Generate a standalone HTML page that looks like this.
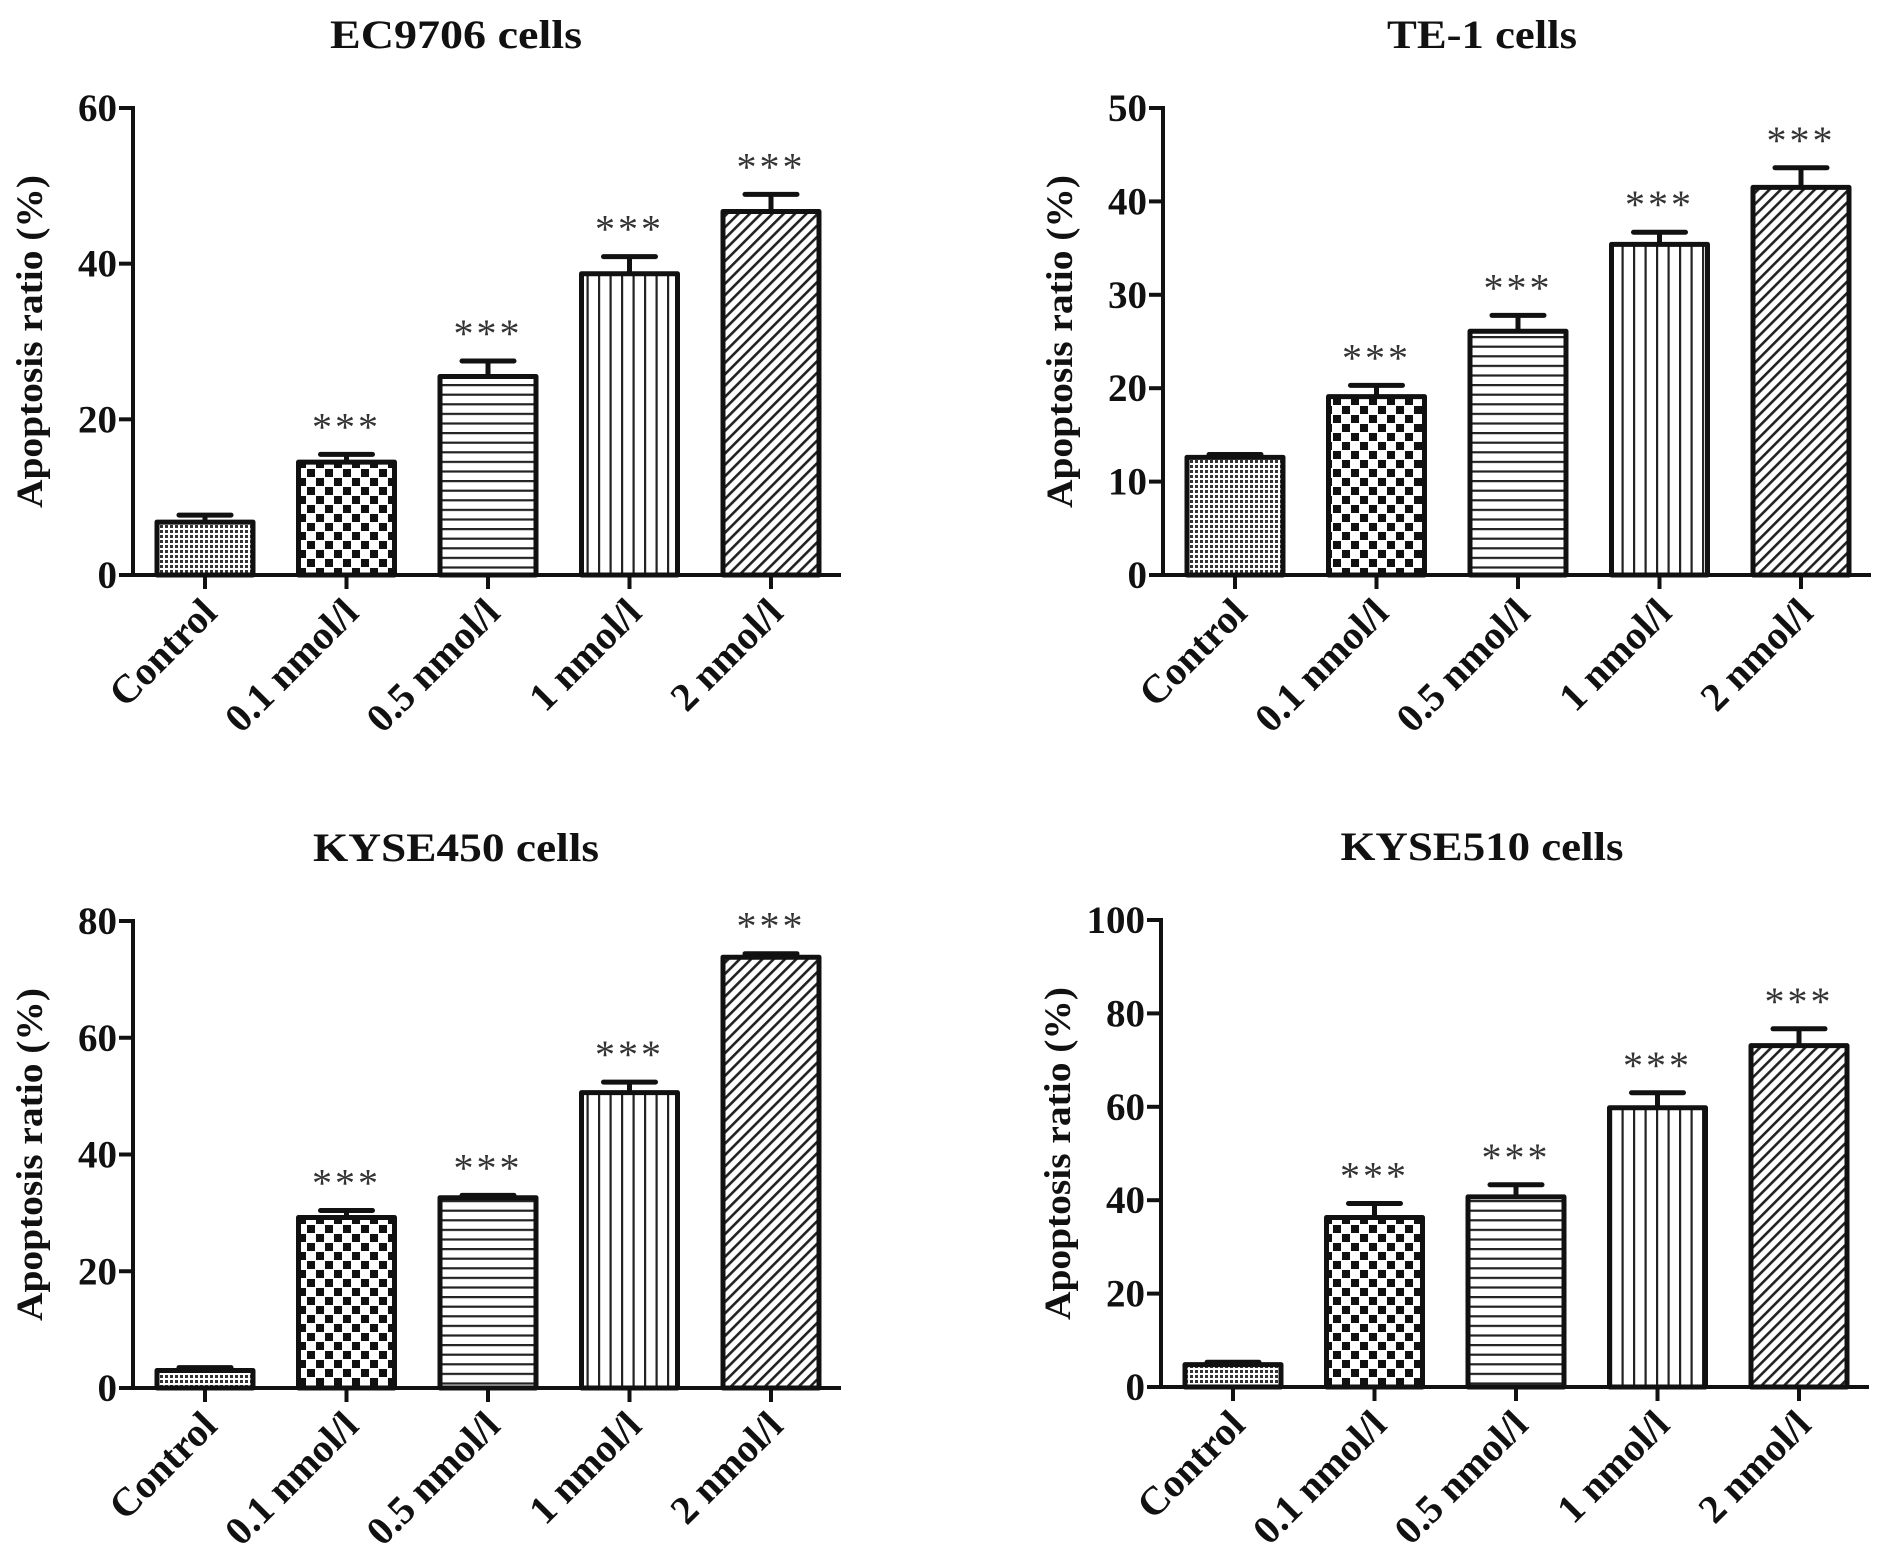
<!DOCTYPE html>
<html><head><meta charset="utf-8">
<style>
html,body{margin:0;padding:0;background:#fff;}
svg{display:block;font-family:"Liberation Serif",serif;}
</style></head>
<body>
<svg id="fig" width="1890" height="1564" viewBox="0 0 1890 1564" xmlns="http://www.w3.org/2000/svg">
<defs>
<pattern id="p-control" patternUnits="userSpaceOnUse" width="5" height="5"><rect width="5" height="5" fill="#fff"/><rect width="3" height="3" fill="#333"/></pattern>
<pattern id="p-check" patternUnits="userSpaceOnUse" width="18" height="18"><rect width="18" height="18" fill="#fff"/><rect x="1" y="1" width="8" height="8" fill="#111"/><rect x="10" y="10" width="8" height="8" fill="#111"/></pattern>
<pattern id="p-hline" patternUnits="userSpaceOnUse" width="10" height="9.6"><rect width="10" height="9.6" fill="#fff"/><rect y="0" width="10" height="2.2" fill="#222"/></pattern>
<pattern id="p-vline" patternUnits="userSpaceOnUse" width="11.5" height="10"><rect width="11.5" height="10" fill="#fff"/><rect x="0" width="2.2" height="10" fill="#222"/></pattern>
<pattern id="p-diag" patternUnits="userSpaceOnUse" width="8" height="8" patternTransform="rotate(45)"><rect width="8" height="8" fill="#fff"/><rect width="2.6" height="8" fill="#222"/></pattern>
</defs>
</svg>
<script>
const categories = ["Control","0.1 nmol/l","0.5 nmol/l","1 nmol/l","2 nmol/l"];
const titles = ["EC9706 cells","TE-1 cells","KYSE450 cells","KYSE510 cells"];
const ec9706Values = [6.8,14.5,25.5,38.7,46.7];
const ec9706Errors = [0.9,1.0,2.0,2.2,2.2];
const te1Values = [12.6,19.1,26.1,35.4,41.5];
const te1Errors = [0.3,1.2,1.7,1.3,2.1];
const kyse450Values = [3.0,29.2,32.6,50.6,73.8];
const kyse450Errors = [0.5,1.2,0.4,1.8,0.6];
const kyse510Values = [4.8,36.3,40.7,59.8,73.1];
const kyse510Errors = [0.5,3.0,2.6,3.2,3.6];
const yMaxes = [60,50,80,100];
const yTickStep = [20,10,20,20];
const significance = ["","***","***","***","***"];

const values=[ec9706Values,te1Values,kyse450Values,kyse510Values];
const errors=[ec9706Errors,te1Errors,kyse450Errors,kyse510Errors];
const fills=["p-control","p-check","p-hline","p-vline","p-diag"];
const titleLen=[252,190,286,283];
const layout=[{ax:133,top:108,zero:575,tx:456},{ax:1163,top:108,zero:575,tx:1482},{ax:133,top:921,zero:1388,tx:456},{ax:1161,top:920,zero:1387,tx:1482}];
const NS="http://www.w3.org/2000/svg";
const svg=document.getElementById('fig');
function mk(tag,attrs,parent){const e=document.createElementNS(NS,tag);for(const k in attrs)e.setAttribute(k,attrs[k]);(parent||svg).appendChild(e);return e;}

layout.forEach((L,pi)=>{
  const g=mk('g',{});
  
  
  const yScale=v=>L.zero-(v/yMaxes[pi])*(L.zero-L.top);
  const step=141.5, x0=L.ax+72, bw=96;
  const xScale=i=>x0+i*step;
  const t=mk('text',{x:L.tx,y:L.top-60,'text-anchor':'middle','font-size':40,'font-weight':'bold',fill:'#111',textLength:titleLen[pi],lengthAdjust:'spacingAndGlyphs'},g);
  t.textContent=titles[pi];
  
  
  const yt=mk('text',{transform:`translate(${L.ax-91},${(L.top+L.zero)/2}) rotate(-90)`,'text-anchor':'middle','font-size':37,'font-weight':'bold',fill:'#111',textLength:333,lengthAdjust:'spacingAndGlyphs'},g);
  yt.textContent="Apoptosis ratio (%)";
  
  
  for(let v=0;v<=yMaxes[pi];v+=yTickStep[pi]){
    const y=yScale(v);
    const tk=mk('line',{x1:L.ax-14,x2:L.ax,y1:y,y2:y,stroke:'#111','stroke-width':4},g);
    
    
    const tl=mk('text',{x:L.ax-16,y:y+13,'text-anchor':'end','font-size':39,'font-weight':'bold',fill:'#111'},g);
    tl.textContent=String(v);
    
    
  }
  const ya=mk('line',{x1:L.ax,x2:L.ax,y1:L.top-2,y2:L.zero+2,stroke:'#111','stroke-width':4},g);
  
  
  categories.forEach((c,i)=>{
    const cx=xScale(i), v=values[pi][i], e=errors[pi][i];
    const yv=yScale(v), ye=yScale(v+e);
    const el=mk('line',{x1:cx,x2:cx,y1:yv,y2:ye,stroke:'#111','stroke-width':5},g);
    
    
    const cap=mk('line',{x1:cx-26,x2:cx+26,y1:ye,y2:ye,stroke:'#111','stroke-width':5,'stroke-linecap':'round'},g);
    
    
    const b=mk('rect',{x:cx-bw/2,y:yv,width:bw,height:L.zero-yv,fill:`url(#${fills[i]})`,stroke:'#111','stroke-width':5,'stroke-linejoin':'round'},g);
    
    
    if(significance[i]){
      const s=mk('text',{x:cx,y:ye-14,'text-anchor':'middle','font-size':40,fill:'#333','letter-spacing':'3'},g);
      s.textContent=significance[i];
      
      
    }
    const xt=mk('line',{x1:cx,x2:cx,y1:L.zero,y2:L.zero+14,stroke:'#111','stroke-width':4},g);
    
    
    const xl=mk('text',{transform:`translate(${cx+14},${L.zero+40}) rotate(-45)`,'text-anchor':'end','font-size':40,'font-weight':'bold',fill:'#111'},g);
    xl.textContent=c;
    
    
  });
  const xa=mk('line',{x1:L.ax-2,x2:L.ax+708,y1:L.zero,y2:L.zero,stroke:'#111','stroke-width':4},g);
  
  
});
</script>
</body></html>
